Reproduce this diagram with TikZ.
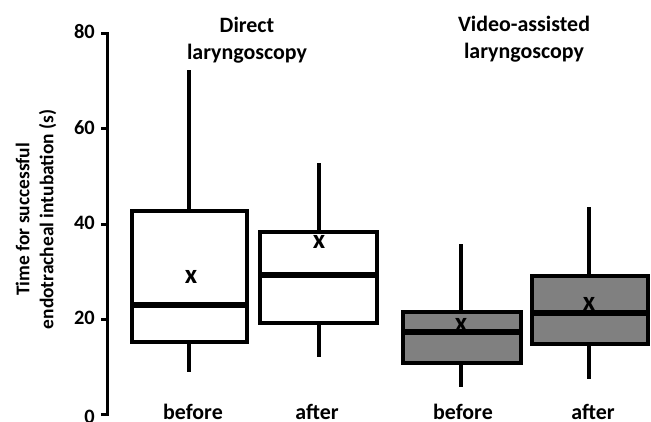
\documentclass[tikz,border=0pt]{standalone}
\usepackage{fontspec}
\setmainfont{Carlito}
\definecolor{boxgray}{HTML}{808080}

\begin{document}
\begin{tikzpicture}[x=1bp, y=4.77bp,
    txt/.style={font=\fontsize{22}{27}\selectfont\bfseries, inner sep=0pt},
    ticktxt/.style={font=\fontsize{20.5}{24}\selectfont\bfseries, inner sep=0pt, anchor=east},
    meantxt/.style={font=\fontsize{27}{27}\selectfont\bfseries, inner sep=0pt},
    axisline/.style={line width=3bp},
    boxline/.style={line width=4bp},
    medline/.style={line width=5.5bp},
    whisk/.style={line width=4bp}]
  \useasboundingbox (-107,-1.26) rectangle (544,87.0);

  % axis
  \draw [axisline] (-6,0) -- (0,0) -- (0,80) -- (-6,80);
  \draw [axisline] (-6,20) -- (0,20);
  \draw [axisline] (-6,40) -- (0,40);
  \draw [axisline] (-6,60) -- (0,60);
  \node [ticktxt] (t0) at (-12,-0.4) {0};
  \node [ticktxt] (t20) at (-12,20.3) {20};
  \node [ticktxt] (t40) at (-12,40.3) {40};
  \node [ticktxt] (t60) at (-12,60.3) {60};
  \node [ticktxt] (t80) at (-12,80.3) {80};
  \node [txt, rotate=90, align=center, font=\fontsize{19.5}{24}\selectfont\bfseries] (ylab) at (-71,41)
    {Time for successful\\endotracheal intubation (s)};

  % direct laryngoscopy
  \node [txt, align=center] (dltitle) at (140,78.6) {Direct\\laryngoscopy};
  \draw [whisk] (82,42.8) -- (82,72.3);
  \draw [whisk] (82,15.3) -- (82,9.0);
  \draw [boxline, fill=white] (25,15.3) rectangle (140,42.8);
  \draw [medline] (25,23.1) -- (140,23.1);
  \node [meantxt] (dlbmean) at (84,29.0) {x};
  \node [txt, anchor=base] (dlbefore) at (86,-0.9) {before};

  \draw [whisk] (212,38.4) -- (212,52.8);
  \draw [whisk] (212,19.3) -- (212,12.2);
  \draw [boxline, fill=white] (153,19.3) rectangle (270,38.4);
  \draw [medline] (153,29.4) -- (270,29.4);
  \node [meantxt] (dlamean) at (212,36.3) {x};
  \node [txt, anchor=base] (dlafter) at (210,-0.9) {after};

  % video-assisted laryngoscopy
  \node [txt, align=center] (vltitle) at (417,78.8) {Video-assisted\\laryngoscopy};
  \draw [whisk] (354,21.6) -- (354,35.8);
  \draw [whisk] (354,10.9) -- (354,5.9);
  \draw [boxline, fill=boxgray] (296,10.9) rectangle (414,21.6);
  \draw [medline] (296,17.4) -- (414,17.4);
  \node [meantxt] (vlbmean) at (354,18.9) {x};
  \node [txt, anchor=base] (vlbefore) at (356,-0.9) {before};

  \draw [whisk] (482,29.1) -- (482,43.6);
  \draw [whisk] (482,14.9) -- (482,7.5);
  \draw [boxline, fill=boxgray] (425,14.9) rectangle (541,29.1);
  \draw [medline] (425,21.4) -- (541,21.4);
  \node [meantxt] (vlamean) at (482,23.3) {x};
  \node [txt, anchor=base] (vlafter) at (486,-0.9) {after};
\end{tikzpicture}
\end{document}
